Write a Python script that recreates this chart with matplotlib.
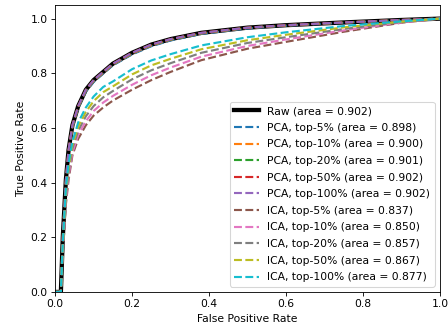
import numpy as np
import matplotlib
matplotlib.use("Agg")
import matplotlib.pyplot as plt

fpr = [0, 0.015, 0.02, 0.028, 0.035, 0.045, 0.06, 0.08, 0.1, 0.125, 0.15,
       0.2, 0.25, 0.3, 0.38, 0.5, 0.6, 0.75, 0.9, 1.0]

tpr_raw = [0, 0, 0.2, 0.41, 0.52, 0.61, 0.68, 0.74, 0.775, 0.805, 0.835,
           0.875, 0.905, 0.925, 0.948, 0.967, 0.976, 0.986, 0.995, 1.0]

pca_labels = ["PCA, top-5% (area = 0.898)", "PCA, top-10% (area = 0.900)",
              "PCA, top-20% (area = 0.901)", "PCA, top-50% (area = 0.902)",
              "PCA, top-100% (area = 0.902)"]
pca_tpr = [
    [0, 0, 0.19, 0.40, 0.51, 0.60, 0.672, 0.733, 0.768, 0.799, 0.829,
     0.869, 0.899, 0.92, 0.944, 0.964, 0.974, 0.985, 0.995, 1.0],
    [0, 0, 0.2, 0.405, 0.515, 0.605, 0.676, 0.737, 0.772, 0.802, 0.832,
     0.872, 0.902, 0.923, 0.946, 0.966, 0.975, 0.986, 0.995, 1.0],
    [0, 0, 0.2, 0.41, 0.518, 0.608, 0.678, 0.739, 0.774, 0.804, 0.834,
     0.874, 0.904, 0.924, 0.947, 0.967, 0.976, 0.986, 0.995, 1.0],
    [0, 0, 0.2, 0.41, 0.52, 0.61, 0.68, 0.74, 0.775, 0.805, 0.835,
     0.875, 0.905, 0.925, 0.948, 0.967, 0.976, 0.986, 0.995, 1.0],
    [0, 0, 0.2, 0.41, 0.52, 0.61, 0.68, 0.74, 0.775, 0.805, 0.835,
     0.875, 0.905, 0.925, 0.948, 0.967, 0.976, 0.986, 0.995, 1.0],
]

ica_labels = ["ICA, top-5% (area = 0.837)", "ICA, top-10% (area = 0.850)",
              "ICA, top-20% (area = 0.857)", "ICA, top-50% (area = 0.867)",
              "ICA, top-100% (area = 0.877)"]
ica_tpr = [
    [0, 0, 0.14, 0.32, 0.41, 0.5, 0.56, 0.61, 0.645, 0.675, 0.70,
     0.74, 0.775, 0.805, 0.848, 0.89, 0.915, 0.952, 0.985, 1.0],
    [0, 0, 0.15, 0.335, 0.425, 0.51, 0.575, 0.625, 0.662, 0.693, 0.717,
     0.758, 0.793, 0.821, 0.861, 0.9, 0.924, 0.957, 0.986, 1.0],
    [0, 0, 0.16, 0.35, 0.44, 0.525, 0.59, 0.643, 0.68, 0.712, 0.735,
     0.778, 0.811, 0.837, 0.875, 0.911, 0.932, 0.962, 0.988, 1.0],
    [0, 0, 0.17, 0.365, 0.455, 0.537, 0.605, 0.659, 0.698, 0.731, 0.752,
     0.796, 0.829, 0.853, 0.888, 0.921, 0.941, 0.968, 0.989, 1.0],
    [0, 0, 0.18, 0.38, 0.47, 0.55, 0.62, 0.675, 0.715, 0.75, 0.77,
     0.815, 0.847, 0.87, 0.902, 0.932, 0.95, 0.973, 0.99, 1.0],
]

dpi = 77
fig = plt.figure(figsize=(448 / dpi, 331 / dpi), dpi=dpi)
ax = fig.add_axes([0.123, 0.118, 0.859, 0.867])

ax.plot(fpr, tpr_raw, color="black", lw=4, label="Raw (area = 0.902)")
for y, lab in zip(pca_tpr, pca_labels):
    ax.plot(fpr, y, "--", lw=2, label=lab)
for y, lab in zip(ica_tpr, ica_labels):
    ax.plot(fpr, y, "--", lw=2, label=lab)

ax.set_xlim(0, 1.0)
ax.set_ylim(0, 1.05)
ax.set_xlabel("False Positive Rate")
ax.set_ylabel("True Positive Rate")
ax.legend(loc="lower right", labelspacing=0.62, handlelength=2.3)

fig.savefig("out.png", dpi=dpi)
